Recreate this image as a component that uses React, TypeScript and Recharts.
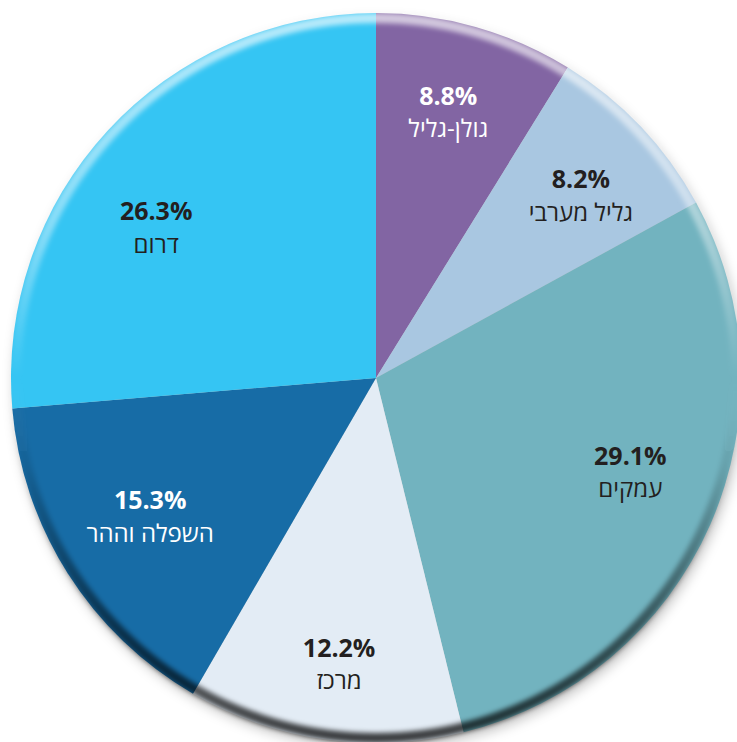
import React from 'react';
import { PieChart, Pie, Cell } from 'recharts';

const categories = ['גולן-גליל', 'גליל מערבי', 'עמקים', 'מרכז', 'השפלה וההר', 'דרום'];
const shares = [8.8, 8.2, 29.1, 12.2, 15.3, 26.3];
const sliceColors = ['#8265a3', '#a9c7e1', '#72b3bf', '#e3ecf5', '#176ca6', '#35c5f3'];
const labelColors = ['#ffffff', '#231f20', '#231f20', '#231f20', '#ffffff', '#231f20'];
// small hand-placement nudges of the labels (style, not data)
const labelNudges = [
  [-3, -2],
  [5, 6],
  [2, -18],
  [2, 12],
  [7, -10],
  [-17, 35],
];

const data = categories.map((name, i) => ({ name, value: shares[i] }));
const disc = [{ name: 'disc', value: 1 }];

const RAD = Math.PI / 180;
const FONT = "'Open Sans', 'Noto Sans', 'DejaVu Sans', sans-serif";

const renderLabel = (props: any) => {
  const { cx, cy, midAngle, outerRadius, index } = props;
  const r = outerRadius * 0.755;
  const x = cx + r * Math.cos(-midAngle * RAD) + labelNudges[index][0];
  const y = cy + r * Math.sin(-midAngle * RAD) + labelNudges[index][1];
  const color = labelColors[index];
  return (
    <g key={`lbl-${index}`}>
      <text x={x} y={y - 16} textAnchor="middle" dominantBaseline="central" fontFamily={FONT} fontWeight={700} fontSize={25} fill={color}>
        {`${shares[index].toFixed(1)}%`}
      </text>
      <text x={x} y={y + 17} textAnchor="middle" dominantBaseline="central" fontFamily={FONT} fontWeight={400} fontSize={24} fill={color}>
        {categories[index]}
      </text>
    </g>
  );
};

const CX = 376;
const CY = 378;
const R = 365;

export default function App() {
  return (
    <div style={{ position: 'absolute', left: 0, top: 0, width: 737, height: 742, background: '#ffffff' }}>
      <PieChart width={737} height={742} margin={{ top: 0, right: 0, bottom: 0, left: 0 }}>
        <defs>
          <filter id="shadowBlur" x="-20%" y="-20%" width="140%" height="140%">
            <feGaussianBlur stdDeviation="6" />
          </filter>
          <filter id="rimBlur" x="-10%" y="-10%" width="120%" height="120%">
            <feGaussianBlur stdDeviation="2.5" />
          </filter>
          <linearGradient id="rimGrad" x1="0" y1="0" x2="0" y2="1">
            <stop offset="0%" stopColor="#ffffff" stopOpacity={0.65} />
            <stop offset="30%" stopColor="#ffffff" stopOpacity={0.4} />
            <stop offset="50%" stopColor="#ffffff" stopOpacity={0} />
            <stop offset="62%" stopColor="#000000" stopOpacity={0.1} />
            <stop offset="85%" stopColor="#000000" stopOpacity={0.55} />
            <stop offset="100%" stopColor="#000000" stopOpacity={0.75} />
          </linearGradient>
        </defs>
        <Pie
          data={disc}
          dataKey="value"
          cx={CX + 3}
          cy={CY + 6}
          outerRadius={R}
          startAngle={90}
          endAngle={-270}
          fill="#000000"
          fillOpacity={0.22}
          stroke="none"
          filter="url(#shadowBlur)"
          isAnimationActive={false}
          label={false}
          labelLine={false}
        />
        <Pie
          data={data}
          dataKey="value"
          nameKey="name"
          cx={CX}
          cy={CY}
          outerRadius={R}
          startAngle={90}
          endAngle={-270}
          stroke="none"
          isAnimationActive={false}
          label={false}
          labelLine={false}
        >
          {data.map((d, i) => (
            <Cell key={d.name} fill={sliceColors[i]} />
          ))}
        </Pie>
        <Pie
          data={disc}
          dataKey="value"
          cx={CX}
          cy={CY}
          innerRadius={R - 10}
          outerRadius={R}
          startAngle={90}
          endAngle={-270}
          fill="url(#rimGrad)"
          stroke="none"
          filter="url(#rimBlur)"
          isAnimationActive={false}
          label={false}
          labelLine={false}
        />
        <Pie
          data={data}
          dataKey="value"
          nameKey="name"
          cx={CX}
          cy={CY}
          outerRadius={R}
          startAngle={90}
          endAngle={-270}
          fill="transparent"
          fillOpacity={0}
          stroke="none"
          isAnimationActive={false}
          label={renderLabel}
          labelLine={false}
        />
      </PieChart>
    </div>
  );
}
